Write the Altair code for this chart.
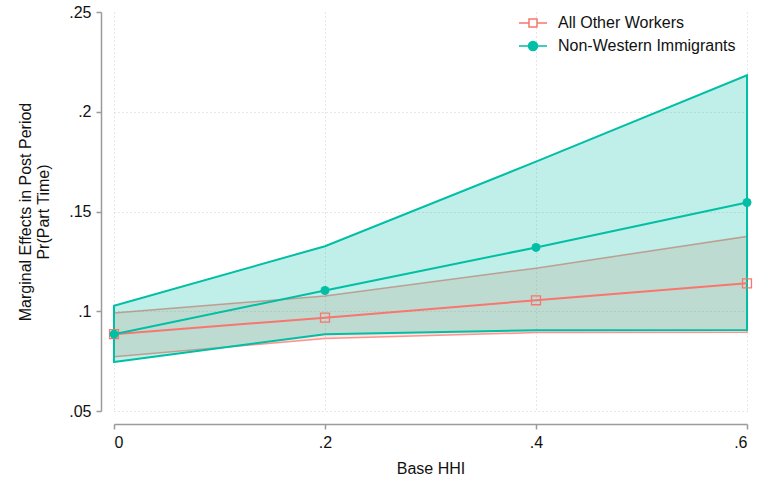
import altair as alt
import pandas as pd

# ---- data ----
x_vals = [0.0, 0.2, 0.4, 0.6]
x_ticks = [0.0, 0.2, 0.4, 0.6]
y_ticks = [0.05, 0.10, 0.15, 0.20, 0.25]
series_names = ["All Other Workers", "Non-Western Immigrants"]

other_mean = [0.0885, 0.0968, 0.1055, 0.1140]
other_lo = [0.0772, 0.0863, 0.0893, 0.0895]
other_hi = [0.0991, 0.1077, 0.1216, 0.1375]

nw_mean = [0.0885, 0.1104, 0.1320, 0.1545]
nw_lo = [0.0746, 0.0885, 0.0905, 0.0906]
nw_hi = [0.1027, 0.1326, 0.1750, 0.2183]

salmon = "#F8766D"
teal = "#00BFA5"
FONT = "Liberation Sans"


def frame(name, mean, lo, hi):
    return pd.DataFrame({"hhi": x_vals, "mean": mean, "lo": lo, "hi": hi, "series": name})


df_other = frame(series_names[0], other_mean, other_lo, other_hi)
df_nw = frame(series_names[1], nw_mean, nw_lo, nw_hi)
df_all = pd.concat([df_other, df_nw], ignore_index=True)

xscale = alt.Scale(domain=[0, 0.6], nice=False, zero=False)
yscale = alt.Scale(domain=[0.05, 0.25], nice=False, zero=False)

common_axis = dict(
    domainColor="#9a9a9a", domainWidth=1.5, tickColor="#9a9a9a", tickWidth=1.5, tickSize=5,
    labelFont=FONT, labelFontSize=16, labelColor="#111111",
    titleFont=FONT, titleFontSize=16, titleFontWeight="normal", titleColor="#111111",
    grid=True, gridColor="#cfcfcf", gridDash=[1, 3], gridWidth=1, offset=13,
)

x_axis = alt.Axis(
    values=x_ticks, title="Base HHI",
    labelExpr="datum.value == 0 ? '0' : slice(format(datum.value, '.2~f'), 1)",
    labelPadding=5, titlePadding=10, **common_axis,
)
y_axis = alt.Axis(
    values=y_ticks, title=["Marginal Effects in Post Period", "Pr(Part Time)"],
    labelExpr="datum.value == 0 ? '0' : slice(format(datum.value, '.2~f'), 1)",
    labelPadding=5, titlePadding=17,
    gridOpacity={"condition": {"test": "datum.value >= 0.249", "value": 0}, "value": 1},
    **common_axis,
)

X = alt.X("hhi:Q", scale=xscale, axis=x_axis)

area_other = alt.Chart(df_other).mark_area(
    color=salmon, fillOpacity=0.2, stroke=salmon, strokeOpacity=0.75, strokeWidth=1.5
).encode(x=X, y=alt.Y("lo:Q", scale=yscale, axis=y_axis), y2="hi:Q")

area_nw = alt.Chart(df_nw).mark_area(
    color=teal, fillOpacity=0.25, stroke=teal, strokeOpacity=1, strokeWidth=2
).encode(x=X, y=alt.Y("lo:Q", scale=yscale, axis=y_axis), y2="hi:Q")

line_other = alt.Chart(df_other).mark_line(color=salmon, strokeWidth=2).encode(
    x=X, y=alt.Y("mean:Q", scale=yscale, axis=y_axis))
pts_other = alt.Chart(df_other).mark_point(
    shape="square", size=80, color=salmon, filled=False, strokeWidth=1.3, opacity=1
).encode(x=X, y=alt.Y("mean:Q", scale=yscale, axis=y_axis))

line_nw = alt.Chart(df_nw).mark_line(color=teal, strokeWidth=2).encode(
    x=X, y=alt.Y("mean:Q", scale=yscale, axis=y_axis))
pts_nw = alt.Chart(df_nw).mark_circle(size=80, color=teal, opacity=1).encode(
    x=X, y=alt.Y("mean:Q", scale=yscale, axis=y_axis))

# legend-only layer (no marks drawn; legend comes from explicit scale domains)
sq_path = "M -1.4 0 H -0.4 M 0.4 0 H 1.4 M -0.4 -0.4 H 0.4 V 0.4 H -0.4 Z"
circ_path = ("M -1.4 0 H 1.4 M -0.45 0 A 0.45 0.45 0 1 0 0.45 0 "
             "A 0.45 0.45 0 1 0 -0.45 0 Z")

legend_obj = alt.Legend(
    orient="none", legendX=408, legendY=0, title=None, padding=0,
    labelFont=FONT, labelFontSize=16, labelColor="#111111", labelLimit=400,
    symbolSize=400, symbolStrokeWidth=1.5, labelOffset=14, rowPadding=4,
)

legend_layer = alt.Chart(df_all).transform_filter("false").mark_point(
    filled=False, opacity=1
).encode(
    x=X, y=alt.Y("mean:Q", scale=yscale, axis=y_axis),
    shape=alt.Shape("series:N", scale=alt.Scale(domain=series_names, range=[sq_path, circ_path]),
                    legend=legend_obj),
    stroke=alt.Stroke("series:N", scale=alt.Scale(domain=series_names, range=[salmon, teal]),
                      legend=legend_obj),
    fill=alt.Fill("series:N", scale=alt.Scale(domain=series_names, range=["#ffffff", teal]),
                  legend=legend_obj),
)

chart = alt.layer(
    area_other, area_nw, line_other, pts_other, line_nw, pts_nw, legend_layer
).properties(
    width=633, height=399,
    autosize=alt.AutoSizeParams(type="none"),
    padding={"left": 114, "top": 12, "right": 12, "bottom": 69},
    background="white",
).configure_view(stroke=None)

chart.save("out.html", embed_options={"renderer": "svg", "actions": False})
